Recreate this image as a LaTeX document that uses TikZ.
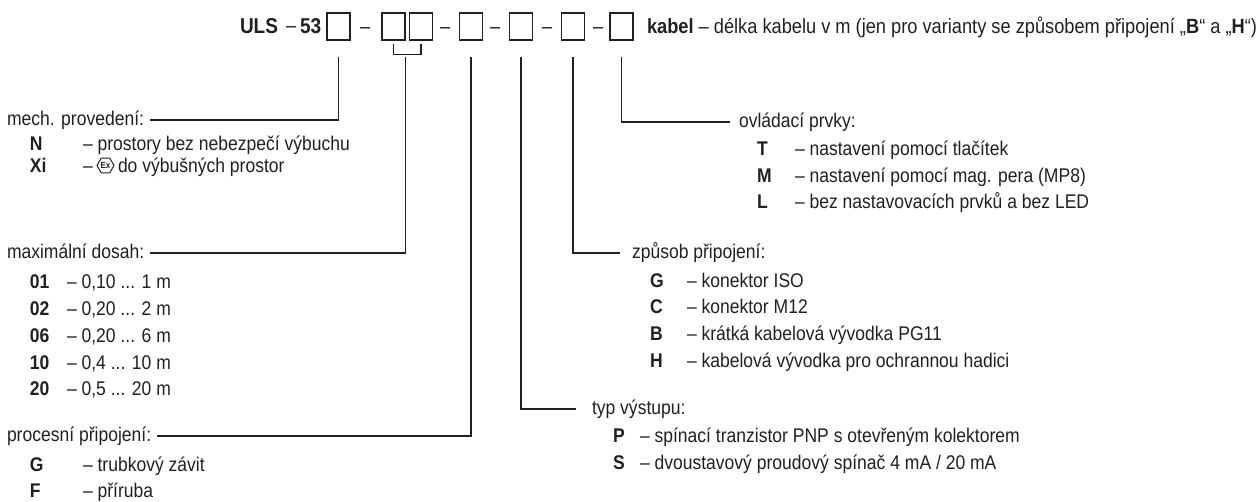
\documentclass[tikz,border=0pt]{standalone}
\usepackage{fontspec}
\setmainfont{Liberation Sans}[FakeStretch=0.885]
\usetikzlibrary{shapes.geometric}
\definecolor{ink}{HTML}{231F20}
\newcommand\bodyfnt{\fontsize{19.8}{23}\selectfont}
\newcommand\headfnt{\fontsize{20.6}{24}\selectfont}
\newcommand\ulsfnt{\fontsize{21.5}{25}\selectfont}
\begin{document}
\begin{tikzpicture}[x=1pt,y=-1pt,
  txt/.style={anchor=base west, inner sep=0pt, outer sep=0pt, text=ink, font=\bodyfnt},
  keytxt/.style={txt, font=\bodyfnt\bfseries},
  headtxt/.style={txt, font=\headfnt},
  headkey/.style={txt, font=\ulsfnt\bfseries},
  conn/.style={draw=ink, line width=1.2pt},
  codebox/.style={draw=ink, line width=1.4pt, minimum width=23pt, minimum height=27pt, inner sep=0pt},
  exsign/.style={regular polygon, regular polygon sides=6, draw=ink, line width=1pt, inner sep=0pt, minimum size=17pt, text=ink, font=\fontsize{9}{9}\selectfont\bfseries}]
\useasboundingbox (0,0) rectangle (1259,502);

% ---------- header ----------
\node[headkey] (uls) at (240,33.5) {ULS};
\node[headtxt] (hd0) at (286,32.5) {–};
\node[headkey] (n53) at (300,33.5) {53};
\node[codebox] (b1) at (338.5,26.5) {};
\node[headtxt] (hd1) at (360,33.5) {–};
\node[codebox] (b2) at (393.5,26.5) {};
\node[codebox] (b3) at (421,26.5) {};
\node[headtxt] (hd2) at (440,33.5) {–};
\node[codebox] (b4) at (471,26.5) {};
\node[headtxt] (hd3) at (490,33.5) {–};
\node[codebox] (b5) at (521,26.5) {};
\node[headtxt] (hd4) at (542,33.5) {–};
\node[codebox] (b6) at (573,26.5) {};
\node[headtxt] (hd5) at (593,33.5) {–};
\node[codebox] (b7) at (621.5,26.5) {};
\node[headtxt] (kab) at (647,33.5) {\textbf{kabel} – délka kabelu v m (jen pro varianty se způsobem připojení „\textbf{B}“ a „\textbf{H}“)};

% bracket under boxes 2 and 3
\draw[conn] ([yshift=-3pt]b2.south) -- ++(0,11) -| ([yshift=-3pt]b3.south);
\coordinate (brk) at (405.5,57);

% ---------- left: mech. provedeni ----------
\node[txt] (mech) at (7,125.1) {mech. provedení:};
\node[keytxt] (kN) at (30,150.6) {N};
\node[txt] (dN) at (83,150.6) {– prostory bez nebezpečí výbuchu};
\node[keytxt] (kXi) at (30,172.6) {Xi};
\node[txt] (dXi) at (83,172.6) {–};
\node[exsign] (ex) at (105.5,165.5) {Ex};
\node[txt] (tXi) at (118,172.6) {do výbušných prostor};

% ---------- left: maximalni dosah ----------
\node[txt] (dos) at (7,258.1) {maximální dosah:};
\node[keytxt] (k01) at (30,288.8) {01};
\node[txt] (d01) at (67,288.8) {– 0,10 ... 1 m};
\node[keytxt] (k02) at (30,315.6) {02};
\node[txt] (d02) at (67,315.6) {– 0,20 ... 2 m};
\node[keytxt] (k06) at (30,342.4) {06};
\node[txt] (d06) at (67,342.4) {– 0,20 ... 6 m};
\node[keytxt] (k10) at (30,369.1) {10};
\node[txt] (d10) at (67,369.1) {– 0,4 ... 10 m};
\node[keytxt] (k20) at (30,395.8) {20};
\node[txt] (d20) at (67,395.8) {– 0,5 ... 20 m};

% ---------- left: procesni pripojeni ----------
\node[txt] (proc) at (7,441.1) {procesní připojení:};
\node[keytxt] (kG1) at (30,471.1) {G};
\node[txt] (dG1) at (83,471.1) {– trubkový závit};
\node[keytxt] (kF) at (30,497.5) {F};
\node[txt] (dF) at (83,497.5) {– příruba};

% ---------- right: ovladaci prvky ----------
\node[txt] (ovl) at (739,127.1) {ovládací prvky:};
\node[keytxt] (kT) at (757,155.1) {T};
\node[txt] (dT) at (795,155.1) {– nastavení pomocí tlačítek};
\node[keytxt] (kM) at (757,182.1) {M};
\node[txt] (dM) at (795,182.1) {– nastavení pomocí mag. pera (MP8)};
\node[keytxt] (kL) at (757,208.6) {L};
\node[txt] (dL) at (795,208.6) {– bez nastavovacích prvků a bez LED};

% ---------- right: zpusob pripojeni ----------
\node[txt] (zp) at (632,258.1) {způsob připojení:};
\node[keytxt] (kG2) at (650,287.1) {G};
\node[txt] (dG2) at (687,287.1) {– konektor ISO};
\node[keytxt] (kC) at (650,313.8) {C};
\node[txt] (dC) at (687,313.8) {– konektor M12};
\node[keytxt] (kB) at (650,340.5) {B};
\node[txt] (dB) at (687,340.5) {– krátká kabelová vývodka PG11};
\node[keytxt] (kH) at (650,367.1) {H};
\node[txt] (dH) at (687,367.1) {– kabelová vývodka pro ochrannou hadici};

% ---------- right: typ vystupu ----------
\node[txt] (typ) at (592,414.1) {typ výstupu:};
\node[keytxt] (kP) at (613,442.1) {P};
\node[txt] (dP) at (640,442.1) {– spínací tranzistor PNP s otevřeným kolektorem};
\node[keytxt] (kS) at (613,469.1) {S};
\node[txt] (dS) at (640,469.1) {– dvoustavový proudový spínač 4 mA / 20 mA};

% ---------- connectors ----------
\draw[conn] ([yshift=-16pt]b1.south) |- ([shift={(6pt,5.1pt)}]mech.base east);
\draw[conn] (brk) |- ([shift={(6pt,5.1pt)}]dos.base east);
\draw[conn] ([yshift=-16pt]b4.south) |- ([shift={(6pt,5.1pt)}]proc.base east);
\draw[conn] ([yshift=-16pt]b5.south) |- ([shift={(-16pt,5.1pt)}]typ.base west);
\draw[conn] ([yshift=-16pt]b6.south) |- ([shift={(-12pt,5.1pt)}]zp.base west);
\draw[conn] ([yshift=-16pt]b7.south) |- ([shift={(-9pt,5.1pt)}]ovl.base west);
\end{tikzpicture}
\end{document}
